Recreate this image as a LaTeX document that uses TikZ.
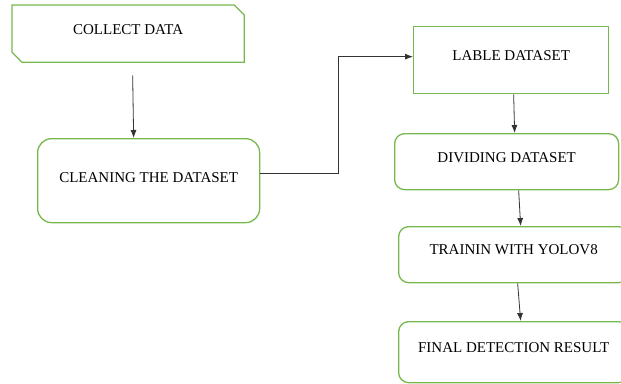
\documentclass[tikz,border=0pt]{standalone}
\usepackage{fontspec}
\setmainfont{Liberation Serif}
\usepackage{tikz}
\usetikzlibrary{arrows.meta,calc}

\definecolor{boxgreen}{RGB}{118,184,76}

\begin{document}
\begin{tikzpicture}[x=1pt, y=-1pt]
        \useasboundingbox (0,0) rectangle (621,383);

        % Parameters
        \def\edge{1.3pt}    % Width of the box outlines
        \def\cut{10pt}      % Size of the cut corners

        \tikzset{
            stage/.style={draw=boxgreen, line width=\edge, anchor=north west,
                inner sep=0pt, align=center, font=\fontsize{15}{17}\selectfont},
            flow/.style={-{Latex[length=8pt,width=6pt]}, line width=0.8pt, black!80}
        }

        % Boxes (text sits in the upper part, hence text height/depth)
        \node[stage, draw=none, minimum width=231pt,
              text height=29pt, text depth=27pt] (collect) at (12,5) {COLLECT DATA};
        \draw[boxgreen, line width=\edge] (collect.north west)
            -- ([xshift=-\cut]collect.north east) -- ([yshift=-\cut]collect.north east)
            -- (collect.south east) -- ([xshift=\cut]collect.south west)
            -- ([yshift=\cut]collect.south west) -- cycle;

        \node[stage, rounded corners=14pt, minimum width=222pt,
              text height=44pt, text depth=40pt] (clean) at (37,138) {CLEANING THE DATASET};

        \node[stage, minimum width=195pt,
              text height=34pt, text depth=33pt] (lable) at (413,26) {LABLE DATASET};

        \node[stage, rounded corners=10pt, minimum width=224pt,
              text height=29pt, text depth=27pt] (divide) at (394,133) {DIVIDING DATASET};

        \node[stage, rounded corners=10pt, minimum width=230pt,
              text height=28pt, text depth=28pt] (train) at (398,226) {TRAININ WITH YOLOV8};

        \node[stage, rounded corners=10pt, minimum width=230pt,
              text height=31pt, text depth=30pt] (final) at (398,321) {FINAL DETECTION RESULT};

        % Connectors
        \draw[flow] ([xshift=4.5pt,yshift=-13pt]collect.south) -- ([xshift=-15pt]clean.north);
        \draw[flow] ([yshift=7pt]clean.east) -- ++(78,0) |- ([yshift=3.5pt]lable.west);
        \draw[flow] ([xshift=2.5pt]lable.south) -- ([xshift=8pt]divide.north);
        \draw[flow] ([xshift=12pt]divide.south) -- ([xshift=7pt]train.north);
        \draw[flow] ([xshift=4pt]train.south) -- ([xshift=7pt]final.north);

\end{tikzpicture}
\end{document}
